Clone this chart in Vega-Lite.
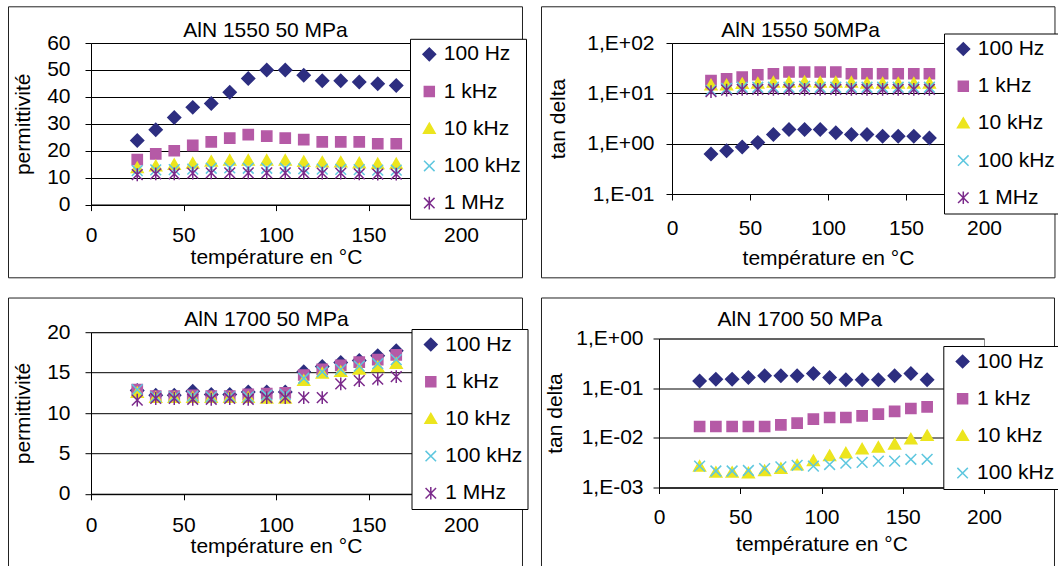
{
  "$schema": "https://vega.github.io/schema/vega-lite/v6.json",
  "autosize": {"type": "pad"},
  "padding": {"left": 7, "top": 5, "right": 0, "bottom": 0},
  "background": "white",
  "datasets": {
    "p1": [
      {"T":25,"f":"100 Hz","v":23.8},{"T":35,"f":"100 Hz","v":27.8},{"T":45,"f":"100 Hz","v":32.3},{"T":55,"f":"100 Hz","v":36.1},{"T":65,"f":"100 Hz","v":37.5},{"T":75,"f":"100 Hz","v":41.7},{"T":85,"f":"100 Hz","v":46.8},{"T":95,"f":"100 Hz","v":50.0},{"T":105,"f":"100 Hz","v":50.0},{"T":115,"f":"100 Hz","v":48.0},{"T":125,"f":"100 Hz","v":46.0},{"T":135,"f":"100 Hz","v":46.0},{"T":145,"f":"100 Hz","v":45.5},{"T":155,"f":"100 Hz","v":44.9},{"T":165,"f":"100 Hz","v":44.2},
      {"T":25,"f":"1 kHz","v":16.7},{"T":35,"f":"1 kHz","v":18.8},{"T":45,"f":"1 kHz","v":20.0},{"T":55,"f":"1 kHz","v":22.0},{"T":65,"f":"1 kHz","v":23.3},{"T":75,"f":"1 kHz","v":24.7},{"T":85,"f":"1 kHz","v":26.0},{"T":95,"f":"1 kHz","v":25.4},{"T":105,"f":"1 kHz","v":24.7},{"T":115,"f":"1 kHz","v":24.1},{"T":125,"f":"1 kHz","v":23.3},{"T":135,"f":"1 kHz","v":23.3},{"T":145,"f":"1 kHz","v":23.3},{"T":155,"f":"1 kHz","v":22.6},{"T":165,"f":"1 kHz","v":22.6},
      {"T":25,"f":"10 kHz","v":13.6},{"T":35,"f":"10 kHz","v":14.3},{"T":45,"f":"10 kHz","v":14.8},{"T":55,"f":"10 kHz","v":15.3},{"T":65,"f":"10 kHz","v":16.0},{"T":75,"f":"10 kHz","v":16.4},{"T":85,"f":"10 kHz","v":16.4},{"T":95,"f":"10 kHz","v":16.4},{"T":105,"f":"10 kHz","v":16.4},{"T":115,"f":"10 kHz","v":15.9},{"T":125,"f":"10 kHz","v":15.7},{"T":135,"f":"10 kHz","v":15.7},{"T":145,"f":"10 kHz","v":15.4},{"T":155,"f":"10 kHz","v":15.1},{"T":165,"f":"10 kHz","v":15.1},
      {"T":25,"f":"100 kHz","v":12.6},{"T":35,"f":"100 kHz","v":12.9},{"T":45,"f":"100 kHz","v":13.0},{"T":55,"f":"100 kHz","v":13.2},{"T":65,"f":"100 kHz","v":13.5},{"T":75,"f":"100 kHz","v":13.6},{"T":85,"f":"100 kHz","v":13.5},{"T":95,"f":"100 kHz","v":13.5},{"T":105,"f":"100 kHz","v":13.5},{"T":115,"f":"100 kHz","v":13.3},{"T":125,"f":"100 kHz","v":13.2},{"T":135,"f":"100 kHz","v":13.1},{"T":145,"f":"100 kHz","v":13.0},{"T":155,"f":"100 kHz","v":12.8},{"T":165,"f":"100 kHz","v":12.8},
      {"T":25,"f":"1 MHz","v":11.1},{"T":35,"f":"1 MHz","v":11.4},{"T":45,"f":"1 MHz","v":11.4},{"T":55,"f":"1 MHz","v":11.7},{"T":65,"f":"1 MHz","v":11.8},{"T":75,"f":"1 MHz","v":11.8},{"T":85,"f":"1 MHz","v":11.8},{"T":95,"f":"1 MHz","v":11.8},{"T":105,"f":"1 MHz","v":11.8},{"T":115,"f":"1 MHz","v":11.8},{"T":125,"f":"1 MHz","v":11.7},{"T":135,"f":"1 MHz","v":11.7},{"T":145,"f":"1 MHz","v":11.4},{"T":155,"f":"1 MHz","v":11.3},{"T":165,"f":"1 MHz","v":11.3}
    ],
    "p2": [
      {"T":25,"f":"100 Hz","v":0.62},{"T":35,"f":"100 Hz","v":0.72},{"T":45,"f":"100 Hz","v":0.86},{"T":55,"f":"100 Hz","v":1.06},{"T":65,"f":"100 Hz","v":1.52},{"T":75,"f":"100 Hz","v":1.91},{"T":85,"f":"100 Hz","v":1.91},{"T":95,"f":"100 Hz","v":1.91},{"T":105,"f":"100 Hz","v":1.64},{"T":115,"f":"100 Hz","v":1.52},{"T":125,"f":"100 Hz","v":1.52},{"T":135,"f":"100 Hz","v":1.40},{"T":145,"f":"100 Hz","v":1.40},{"T":155,"f":"100 Hz","v":1.40},{"T":165,"f":"100 Hz","v":1.30},
      {"T":25,"f":"1 kHz","v":18.0},{"T":35,"f":"1 kHz","v":19.4},{"T":45,"f":"1 kHz","v":21.0},{"T":55,"f":"1 kHz","v":23.4},{"T":65,"f":"1 kHz","v":24.5},{"T":75,"f":"1 kHz","v":26.5},{"T":85,"f":"1 kHz","v":26.5},{"T":95,"f":"1 kHz","v":26.5},{"T":105,"f":"1 kHz","v":26.5},{"T":115,"f":"1 kHz","v":24.5},{"T":125,"f":"1 kHz","v":24.5},{"T":135,"f":"1 kHz","v":24.5},{"T":145,"f":"1 kHz","v":24.5},{"T":155,"f":"1 kHz","v":24.5},{"T":165,"f":"1 kHz","v":24.5},
      {"T":25,"f":"10 kHz","v":14.5},{"T":35,"f":"10 kHz","v":14.5},{"T":45,"f":"10 kHz","v":15.5},{"T":55,"f":"10 kHz","v":15.8},{"T":65,"f":"10 kHz","v":16.5},{"T":75,"f":"10 kHz","v":16.5},{"T":85,"f":"10 kHz","v":16.8},{"T":95,"f":"10 kHz","v":16.5},{"T":105,"f":"10 kHz","v":16.5},{"T":115,"f":"10 kHz","v":16.5},{"T":125,"f":"10 kHz","v":15.8},{"T":135,"f":"10 kHz","v":15.8},{"T":145,"f":"10 kHz","v":15.8},{"T":155,"f":"10 kHz","v":15.8},{"T":165,"f":"10 kHz","v":15.8},
      {"T":25,"f":"100 kHz","v":11.5},{"T":35,"f":"100 kHz","v":12.5},{"T":45,"f":"100 kHz","v":13.2},{"T":55,"f":"100 kHz","v":13.2},{"T":65,"f":"100 kHz","v":13.2},{"T":75,"f":"100 kHz","v":13.2},{"T":85,"f":"100 kHz","v":13.8},{"T":95,"f":"100 kHz","v":13.2},{"T":105,"f":"100 kHz","v":13.2},{"T":115,"f":"100 kHz","v":13.2},{"T":125,"f":"100 kHz","v":13.2},{"T":135,"f":"100 kHz","v":13.2},{"T":145,"f":"100 kHz","v":13.2},{"T":155,"f":"100 kHz","v":13.2},{"T":165,"f":"100 kHz","v":13.2},
      {"T":25,"f":"1 MHz","v":10.8},{"T":35,"f":"1 MHz","v":11.6},{"T":45,"f":"1 MHz","v":12.0},{"T":55,"f":"1 MHz","v":12.0},{"T":65,"f":"1 MHz","v":12.0},{"T":75,"f":"1 MHz","v":12.0},{"T":85,"f":"1 MHz","v":12.0},{"T":95,"f":"1 MHz","v":12.0},{"T":105,"f":"1 MHz","v":12.0},{"T":115,"f":"1 MHz","v":12.0},{"T":125,"f":"1 MHz","v":12.0},{"T":135,"f":"1 MHz","v":12.0},{"T":145,"f":"1 MHz","v":12.0},{"T":155,"f":"1 MHz","v":12.0},{"T":165,"f":"1 MHz","v":12.0}
    ],
    "p3": [
      {"T":25,"f":"100 Hz","v":12.8},{"T":35,"f":"100 Hz","v":12.2},{"T":45,"f":"100 Hz","v":12.2},{"T":55,"f":"100 Hz","v":12.7},{"T":65,"f":"100 Hz","v":12.3},{"T":75,"f":"100 Hz","v":12.3},{"T":85,"f":"100 Hz","v":12.6},{"T":95,"f":"100 Hz","v":12.6},{"T":105,"f":"100 Hz","v":12.6},{"T":115,"f":"100 Hz","v":15.1},{"T":125,"f":"100 Hz","v":15.75},{"T":135,"f":"100 Hz","v":16.25},{"T":145,"f":"100 Hz","v":16.5},{"T":155,"f":"100 Hz","v":17.1},{"T":165,"f":"100 Hz","v":17.7},
      {"T":25,"f":"1 kHz","v":12.9},{"T":35,"f":"1 kHz","v":12.1},{"T":45,"f":"1 kHz","v":12.1},{"T":55,"f":"1 kHz","v":12.2},{"T":65,"f":"1 kHz","v":12.1},{"T":75,"f":"1 kHz","v":12.1},{"T":85,"f":"1 kHz","v":12.3},{"T":95,"f":"1 kHz","v":12.4},{"T":105,"f":"1 kHz","v":12.5},{"T":115,"f":"1 kHz","v":14.7},{"T":125,"f":"1 kHz","v":15.4},{"T":135,"f":"1 kHz","v":15.9},{"T":145,"f":"1 kHz","v":16.3},{"T":155,"f":"1 kHz","v":16.6},{"T":165,"f":"1 kHz","v":17.2},
      {"T":25,"f":"10 kHz","v":12.5},{"T":35,"f":"10 kHz","v":11.9},{"T":45,"f":"10 kHz","v":11.9},{"T":55,"f":"10 kHz","v":11.9},{"T":65,"f":"10 kHz","v":11.9},{"T":75,"f":"10 kHz","v":11.9},{"T":85,"f":"10 kHz","v":11.9},{"T":95,"f":"10 kHz","v":11.8},{"T":105,"f":"10 kHz","v":11.8},{"T":115,"f":"10 kHz","v":14.0},{"T":125,"f":"10 kHz","v":14.9},{"T":135,"f":"10 kHz","v":15.1},{"T":145,"f":"10 kHz","v":15.4},{"T":155,"f":"10 kHz","v":15.7},{"T":165,"f":"10 kHz","v":16.1},
      {"T":25,"f":"100 kHz","v":12.9},{"T":35,"f":"100 kHz","v":12.0},{"T":45,"f":"100 kHz","v":12.0},{"T":55,"f":"100 kHz","v":12.1},{"T":65,"f":"100 kHz","v":12.0},{"T":75,"f":"100 kHz","v":12.0},{"T":85,"f":"100 kHz","v":12.0},{"T":95,"f":"100 kHz","v":12.2},{"T":105,"f":"100 kHz","v":12.3},{"T":115,"f":"100 kHz","v":14.3},{"T":125,"f":"100 kHz","v":15.1},{"T":135,"f":"100 kHz","v":15.4},{"T":145,"f":"100 kHz","v":15.8},{"T":155,"f":"100 kHz","v":16.1},{"T":165,"f":"100 kHz","v":16.6},
      {"T":25,"f":"1 MHz","v":11.6},{"T":35,"f":"1 MHz","v":11.8},{"T":45,"f":"1 MHz","v":11.8},{"T":55,"f":"1 MHz","v":11.7},{"T":65,"f":"1 MHz","v":11.7},{"T":75,"f":"1 MHz","v":11.8},{"T":85,"f":"1 MHz","v":11.7},{"T":95,"f":"1 MHz","v":11.9},{"T":105,"f":"1 MHz","v":11.9},{"T":115,"f":"1 MHz","v":11.9},{"T":125,"f":"1 MHz","v":11.9},{"T":135,"f":"1 MHz","v":13.6},{"T":145,"f":"1 MHz","v":14.0},{"T":155,"f":"1 MHz","v":14.2},{"T":165,"f":"1 MHz","v":14.5}
    ],
    "p4": [
      {"T":25,"f":"100 Hz","v":0.140},{"T":35,"f":"100 Hz","v":0.152},{"T":45,"f":"100 Hz","v":0.152},{"T":55,"f":"100 Hz","v":0.164},{"T":65,"f":"100 Hz","v":0.177},{"T":75,"f":"100 Hz","v":0.177},{"T":85,"f":"100 Hz","v":0.177},{"T":95,"f":"100 Hz","v":0.197},{"T":105,"f":"100 Hz","v":0.164},{"T":115,"f":"100 Hz","v":0.147},{"T":125,"f":"100 Hz","v":0.147},{"T":135,"f":"100 Hz","v":0.147},{"T":145,"f":"100 Hz","v":0.177},{"T":155,"f":"100 Hz","v":0.197},{"T":165,"f":"100 Hz","v":0.147},
      {"T":25,"f":"1 kHz","v":0.0169},{"T":35,"f":"1 kHz","v":0.0169},{"T":45,"f":"1 kHz","v":0.0169},{"T":55,"f":"1 kHz","v":0.0169},{"T":65,"f":"1 kHz","v":0.0169},{"T":75,"f":"1 kHz","v":0.0183},{"T":85,"f":"1 kHz","v":0.0197},{"T":95,"f":"1 kHz","v":0.0238},{"T":105,"f":"1 kHz","v":0.0257},{"T":115,"f":"1 kHz","v":0.0257},{"T":125,"f":"1 kHz","v":0.0277},{"T":135,"f":"1 kHz","v":0.030},{"T":145,"f":"1 kHz","v":0.034},{"T":155,"f":"1 kHz","v":0.039},{"T":165,"f":"1 kHz","v":0.042},
      {"T":25,"f":"10 kHz","v":0.00265},{"T":35,"f":"10 kHz","v":0.0020},{"T":45,"f":"10 kHz","v":0.0020},{"T":55,"f":"10 kHz","v":0.00195},{"T":65,"f":"10 kHz","v":0.00215},{"T":75,"f":"10 kHz","v":0.0024},{"T":85,"f":"10 kHz","v":0.0028},{"T":95,"f":"10 kHz","v":0.00344},{"T":105,"f":"10 kHz","v":0.00434},{"T":115,"f":"10 kHz","v":0.0049},{"T":125,"f":"10 kHz","v":0.0059},{"T":135,"f":"10 kHz","v":0.0064},{"T":145,"f":"10 kHz","v":0.0074},{"T":155,"f":"10 kHz","v":0.0094},{"T":165,"f":"10 kHz","v":0.011},
      {"T":25,"f":"100 kHz","v":0.0027},{"T":35,"f":"100 kHz","v":0.00215},{"T":45,"f":"100 kHz","v":0.00215},{"T":55,"f":"100 kHz","v":0.0022},{"T":65,"f":"100 kHz","v":0.0024},{"T":75,"f":"100 kHz","v":0.0026},{"T":85,"f":"100 kHz","v":0.0028},{"T":95,"f":"100 kHz","v":0.0027},{"T":105,"f":"100 kHz","v":0.0029},{"T":115,"f":"100 kHz","v":0.0031},{"T":125,"f":"100 kHz","v":0.0032},{"T":135,"f":"100 kHz","v":0.0034},{"T":145,"f":"100 kHz","v":0.0034},{"T":155,"f":"100 kHz","v":0.0037},{"T":165,"f":"100 kHz","v":0.0037}
    ]
  },
  "bounds": "flush",
  "spacing": 289,
  "vconcat": [
    {
      "hconcat": [
        {
          "width": 370, "height": 161.6,
          "title": {"text": "AlN 1550 50 MPa", "dx": -10.5, "dy": 38.9},
          "layer": [
            {
              "data": {"name": "p1"},
              "mark": {"type": "point", "filled": true, "opacity": 1, "size": 115, "strokeWidth": 1.5},
              "encoding": {
                "x": {"field": "T", "type": "quantitative", "scale": {"domain": [0, 200], "nice": false, "zero": false}, "axis": {"values": [0, 50, 100, 150, 200], "title": "température en °C", "grid": false, "labelPadding": 14, "titlePadding": 0.5}},
                "y": {"field": "v", "type": "quantitative", "scale": {"domain": [0, 60], "nice": false, "zero": false}, "axis": {"values": [0, 10, 20, 30, 40, 50, 60], "tickCount": 7, "title": "permittivité", "grid": true, "encode": {"grid": {"update": {"stroke": {"signal": "datum.value >= 60 ? '#8c8c8c' : '#000000'"}}}}, "labelPadding": 15, "titlePadding": 13.5}},
                "fill": {"field": "f", "type": "nominal", "scale": {"domain": ["100 Hz", "1 kHz", "10 kHz", "100 kHz", "1 MHz"], "range": ["#2d2e80", "#b55aa6", "#ece51e", "#5ec7df", "#7b2a8b"]}, "legend": {"title": null, "legendX": 319, "legendY": -4.2}},
                "stroke": {"field": "f", "type": "nominal", "scale": {"domain": ["100 Hz", "1 kHz", "10 kHz", "100 kHz", "1 MHz"], "range": ["#2d2e80", "#b55aa6", "#ece51e", "#5ec7df", "#7b2a8b"]}, "legend": {"title": null, "legendX": 319, "legendY": -4.2}},
                "shape": {"field": "f", "type": "nominal", "scale": {"domain": ["100 Hz", "1 kHz", "10 kHz", "100 kHz", "1 MHz"], "range": ["M-1.2,0L0,-1.2L1.2,0L0,1.2Z", "M-0.95,-0.95L0.95,-0.95L0.95,0.95L-0.95,0.95Z", "M0,-1.05L1.1,0.85L-1.1,0.85Z", "M-1,-1L1,1M-1,1L1,-1", "M-1,-1L1,1M-1,1L1,-1M0,-1.2L0,1.2"]}, "legend": {"title": null, "legendX": 319, "legendY": -4.2}}
              }
            },
            {
              "data": {"values": [{}]},
              "mark": {"type": "rect", "filled": false, "stroke": "#222", "strokeWidth": 1},
              "encoding": {"x": {"datum": -44.59, "type": "quantitative"}, "x2": {"datum": 233.24}, "y": {"datum": 73.44, "type": "quantitative", "axis": {"values": [0, 10, 20, 30, 40, 50, 60], "tickCount": 7, "title": "permittivité", "grid": true, "encode": {"grid": {"update": {"stroke": {"signal": "datum.value >= 60 ? '#8c8c8c' : '#000000'"}}}}, "labelPadding": 15, "titlePadding": 13.5}}, "y2": {"datum": -27.18}}
            }
          ]
        },
        {
          "width": 312, "height": 151,
          "title": {"text": "AlN 1550 50MPa", "dx": -27.4, "dy": 38.9},
          "layer": [
            {
              "data": {"name": "p2"},
              "mark": {"type": "point", "filled": true, "opacity": 1, "size": 115, "strokeWidth": 1.5},
              "encoding": {
                "x": {"field": "T", "type": "quantitative", "scale": {"domain": [0, 200], "nice": false, "zero": false}, "axis": {"values": [0, 50, 100, 150, 200], "title": "température en °C", "grid": false, "labelPadding": 17, "titlePadding": 9}},
                "y": {"field": "v", "type": "quantitative", "scale": {"type": "log", "domain": [0.1, 100], "nice": false}, "axis": {"values": [0.1, 1, 10, 100], "labelExpr": "'1,E' + (datum.value >= 1 ? '+' : '-') + '0' + abs(round(log(datum.value) / LN10))", "title": "tan delta", "grid": true, "encode": {"grid": {"update": {"stroke": {"signal": "datum.value >= 100 ? '#8c8c8c' : '#000000'"}}}}, "labelPadding": 12, "titlePadding": 18.5}},
                "fill": {"field": "f", "type": "nominal", "scale": {"domain": ["100 Hz", "1 kHz", "10 kHz", "100 kHz", "1 MHz"], "range": ["#2d2e80", "#b55aa6", "#ece51e", "#5ec7df", "#7b2a8b"]}, "legend": {"title": null, "legendX": 272, "legendY": -9.5}},
                "stroke": {"field": "f", "type": "nominal", "scale": {"domain": ["100 Hz", "1 kHz", "10 kHz", "100 kHz", "1 MHz"], "range": ["#2d2e80", "#b55aa6", "#ece51e", "#5ec7df", "#7b2a8b"]}, "legend": {"title": null, "legendX": 272, "legendY": -9.5}},
                "shape": {"field": "f", "type": "nominal", "scale": {"domain": ["100 Hz", "1 kHz", "10 kHz", "100 kHz", "1 MHz"], "range": ["M-1.2,0L0,-1.2L1.2,0L0,1.2Z", "M-0.95,-0.95L0.95,-0.95L0.95,0.95L-0.95,0.95Z", "M0,-1.05L1.1,0.85L-1.1,0.85Z", "M-1,-1L1,1M-1,1L1,-1", "M-1,-1L1,1M-1,1L1,-1M0,-1.2L0,1.2"]}, "legend": {"title": null, "legendX": 272, "legendY": -9.5}}
              }
            },
            {
              "data": {"values": [{}]},
              "mark": {"type": "rect", "filled": false, "stroke": "#222", "strokeWidth": 1},
              "encoding": {"x": {"datum": -83.65, "type": "quantitative"}, "x2": {"datum": 245.5}, "y": {"datum": 524, "type": "quantitative"}, "y2": {"datum": 0.00216}}
            }
          ]
        }
      ],
      "bounds": "flush",
      "spacing": 211,
      "resolve": {"scale": {"fill": "independent", "stroke": "independent", "shape": "independent"}, "legend": {"fill": "independent", "stroke": "independent", "shape": "independent"}}
    },
    {
      "hconcat": [
        {
          "width": 370, "height": 161.6,
          "title": {"text": "AlN 1700 50 MPa", "dx": -9.5, "dy": 36.9},
          "layer": [
            {
              "data": {"name": "p3"},
              "mark": {"type": "point", "filled": true, "opacity": 1, "size": 115, "strokeWidth": 1.5},
              "encoding": {
                "x": {"field": "T", "type": "quantitative", "scale": {"domain": [0, 200], "nice": false, "zero": false}, "axis": {"values": [0, 50, 100, 150, 200], "title": "température en °C", "grid": false, "labelPadding": 15, "titlePadding": 0}},
                "y": {"field": "v", "type": "quantitative", "scale": {"domain": [0, 20], "nice": false, "zero": false}, "axis": {"values": [0, 5, 10, 15, 20], "title": "permittivité", "grid": true, "encode": {"grid": {"update": {"stroke": {"signal": "datum.value >= 20 ? '#8c8c8c' : '#000000'"}}}}, "labelPadding": 15, "titlePadding": 13.5}},
                "fill": {"field": "f", "type": "nominal", "scale": {"domain": ["100 Hz", "1 kHz", "10 kHz", "100 kHz", "1 MHz"], "range": ["#2d2e80", "#b55aa6", "#ece51e", "#5ec7df", "#7b2a8b"]}, "legend": {"title": null, "legendX": 320.5, "legendY": -3.2}},
                "stroke": {"field": "f", "type": "nominal", "scale": {"domain": ["100 Hz", "1 kHz", "10 kHz", "100 kHz", "1 MHz"], "range": ["#2d2e80", "#b55aa6", "#ece51e", "#5ec7df", "#7b2a8b"]}, "legend": {"title": null, "legendX": 320.5, "legendY": -3.2}},
                "shape": {"field": "f", "type": "nominal", "scale": {"domain": ["100 Hz", "1 kHz", "10 kHz", "100 kHz", "1 MHz"], "range": ["M-1.2,0L0,-1.2L1.2,0L0,1.2Z", "M-0.95,-0.95L0.95,-0.95L0.95,0.95L-0.95,0.95Z", "M0,-1.05L1.1,0.85L-1.1,0.85Z", "M-1,-1L1,1M-1,1L1,-1", "M-1,-1L1,1M-1,1L1,-1M0,-1.2L0,1.2"]}, "legend": {"title": null, "legendX": 320.5, "legendY": -3.2}}
              }
            },
            {
              "data": {"values": [{}]},
              "mark": {"type": "rule", "stroke": "#222", "strokeWidth": 1},
              "encoding": {"x": {"datum": -44.59, "type": "quantitative"}, "y": {"datum": 24.23, "type": "quantitative"}, "y2": {"datum": -9.06}}
            },
            {
              "data": {"values": [{}]},
              "mark": {"type": "rule", "stroke": "#222", "strokeWidth": 1},
              "encoding": {"x": {"datum": 233.24, "type": "quantitative"}, "y": {"datum": 24.23, "type": "quantitative"}, "y2": {"datum": -9.06}}
            },
            {
              "data": {"values": [{}]},
              "mark": {"type": "rule", "stroke": "#222", "strokeWidth": 1},
              "encoding": {"x": {"datum": -44.59, "type": "quantitative"}, "x2": {"datum": 233.24}, "y": {"datum": 24.23, "type": "quantitative"}}
            }
          ]
        },
        {
          "width": 325, "height": 149,
          "title": {"text": "AlN 1700 50 MPa", "dx": -21.6, "dy": 36.9},
          "layer": [
            {
              "data": {"name": "p4"},
              "mark": {"type": "point", "filled": true, "opacity": 1, "size": 115, "strokeWidth": 1.5},
              "encoding": {
                "x": {"field": "T", "type": "quantitative", "scale": {"domain": [0, 200], "nice": false, "zero": false}, "axis": {"values": [0, 50, 100, 150, 200], "title": "température en °C", "grid": false, "labelPadding": 13, "titlePadding": 6.4}},
                "y": {"field": "v", "type": "quantitative", "scale": {"type": "log", "domain": [0.001, 1], "nice": false}, "axis": {"values": [0.001, 0.01, 0.1, 1], "labelExpr": "'1,E' + (datum.value >= 1 ? '+' : '-') + '0' + abs(round(log(datum.value) / LN10))", "title": "tan delta", "grid": true, "encode": {"grid": {"update": {"stroke": {"signal": "datum.value >= 1 ? '#8c8c8c' : '#000000'"}}}}, "labelPadding": 10, "titlePadding": 10}},
                "fill": {"field": "f", "type": "nominal", "scale": {"domain": ["100 Hz", "1 kHz", "10 kHz", "100 kHz"], "range": ["#2d2e80", "#b55aa6", "#ece51e", "#5ec7df"]}, "legend": {"title": null, "legendX": 284.3, "legendY": 7.5}},
                "stroke": {"field": "f", "type": "nominal", "scale": {"domain": ["100 Hz", "1 kHz", "10 kHz", "100 kHz"], "range": ["#2d2e80", "#b55aa6", "#ece51e", "#5ec7df"]}, "legend": {"title": null, "legendX": 284.3, "legendY": 7.5}},
                "shape": {"field": "f", "type": "nominal", "scale": {"domain": ["100 Hz", "1 kHz", "10 kHz", "100 kHz"], "range": ["M-1.2,0L0,-1.2L1.2,0L0,1.2Z", "M-0.95,-0.95L0.95,-0.95L0.95,0.95L-0.95,0.95Z", "M0,-1.05L1.1,0.85L-1.1,0.85Z", "M-1,-1L1,1M-1,1L1,-1"]}, "legend": {"title": null, "legendX": 284.3, "legendY": 7.5}}
              }
            },
            {
              "data": {"values": [{}]},
              "mark": {"type": "rule", "stroke": "#222", "strokeWidth": 1},
              "encoding": {"x": {"datum": -72.31, "type": "quantitative"}, "y": {"datum": 6.54, "type": "quantitative"}, "y2": {"datum": 0.0000251}}
            },
            {
              "data": {"values": [{}]},
              "mark": {"type": "rule", "stroke": "#222", "strokeWidth": 1},
              "encoding": {"x": {"datum": 243.38, "type": "quantitative"}, "y": {"datum": 6.54, "type": "quantitative"}, "y2": {"datum": 0.0000251}}
            },
            {
              "data": {"values": [{}]},
              "mark": {"type": "rule", "stroke": "#222", "strokeWidth": 1},
              "encoding": {"x": {"datum": -72.31, "type": "quantitative"}, "x2": {"datum": 243.38}, "y": {"datum": 6.54, "type": "quantitative"}}
            }
          ]
        }
      ],
      "bounds": "flush",
      "center": true,
      "spacing": 198,
      "resolve": {"scale": {"fill": "independent", "stroke": "independent", "shape": "independent"}, "legend": {"fill": "independent", "stroke": "independent", "shape": "independent"}}
    }
  ],
  "resolve": {"scale": {"fill": "independent", "stroke": "independent", "shape": "independent"}, "legend": {"fill": "independent", "stroke": "independent", "shape": "independent"}},
  "config": {
    "font": "Liberation Sans",
    "view": {"stroke": "#8c8c8c", "strokeWidth": 1},
    "axis": {"labelFont": "Liberation Sans", "labelFontSize": 21, "labelColor": "#000", "titleFont": "Liberation Sans", "titleFontSize": 21, "titleFontWeight": "normal", "titleColor": "#000", "domainColor": "#000", "tickColor": "#000", "tickSize": 6, "gridColor": "#000", "labelFlush": false, "labelOverlap": false},
    "legend": {"orient": "none", "fillColor": "#ffffff", "strokeColor": "#000000", "padding": 5, "rowPadding": 15.2, "labelFont": "Liberation Sans", "labelFontSize": 21, "labelColor": "#000", "symbolSize": 110, "symbolStrokeWidth": 1.5, "labelOffset": 4, "symbolOffset": 3.8},
    "title": {"font": "Liberation Sans", "fontSize": 21, "fontWeight": "normal", "color": "#000", "anchor": "middle", "frame": "group"}
  }
}
